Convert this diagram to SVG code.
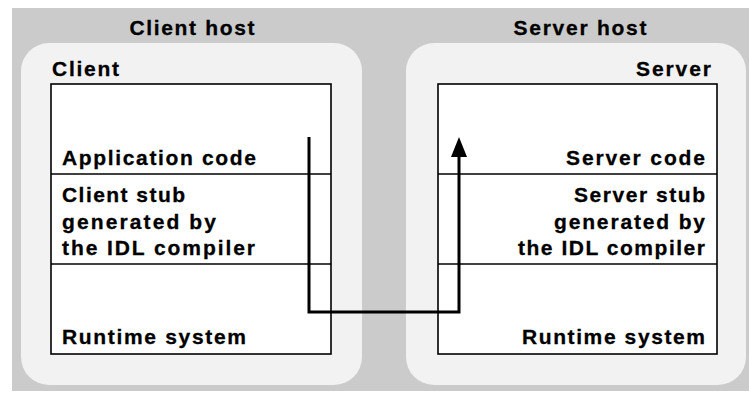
<svg xmlns="http://www.w3.org/2000/svg" width="749" height="393" viewBox="0 0 749 393">
<style>
.t{font-family:"Liberation Sans","DejaVu Sans",Arial,sans-serif;font-weight:bold;font-size:21px;fill:#000;stroke:#000;stroke-width:0.3}
.e{text-anchor:end}
.m{text-anchor:middle}
.panel{fill:#f2f2f2}
.box{fill:#fff;stroke:#000;stroke-width:1.6}
.div{stroke:#000;stroke-width:1.6}
.conn{fill:none;stroke:#000;stroke-width:3}
</style>
<rect x="0" y="0" width="749" height="393" fill="#fff"/>
<rect x="12" y="8" width="737" height="383" fill="#cbcbcb"/>
<g id="client-host">
<rect class="panel" x="21" y="43" width="341" height="342" rx="28"/>
<text class="t m" x="192" y="35" textLength="125" lengthAdjust="spacing">Client host</text>
</g>
<g id="server-host">
<rect class="panel" x="406" y="43" width="340" height="342" rx="28"/>
<text class="t m" x="580" y="35" textLength="133" lengthAdjust="spacing">Server host</text>
</g>
<g id="client">
<text class="t" x="52" y="76" textLength="67" lengthAdjust="spacing">Client</text>
<rect class="box" x="51" y="84" width="280" height="270"/>
<line class="div" x1="51" y1="174" x2="331" y2="174"/>
<line class="div" x1="51" y1="264" x2="331" y2="264"/>
</g>
<g id="client-app">
<text class="t" x="62" y="165" textLength="194" lengthAdjust="spacing">Application code</text>
</g>
<g id="client-stub">
<text class="t" x="62" y="202" textLength="123" lengthAdjust="spacing">Client stub</text>
<text class="t" x="62" y="229" textLength="154" lengthAdjust="spacing">generated by</text>
<text class="t" x="62" y="255" textLength="193" lengthAdjust="spacing">the IDL compiler</text>
</g>
<g id="client-runtime">
<text class="t" x="62" y="344" textLength="184" lengthAdjust="spacing">Runtime system</text>
</g>
<g id="server">
<text class="t e" x="711" y="76" textLength="75" lengthAdjust="spacing">Server</text>
<rect class="box" x="438" y="84" width="279" height="270"/>
<line class="div" x1="438" y1="174" x2="717" y2="174"/>
<line class="div" x1="438" y1="264" x2="717" y2="264"/>
</g>
<g id="server-code">
<text class="t e" x="705" y="165" textLength="139" lengthAdjust="spacing">Server code</text>
</g>
<g id="server-stub">
<text class="t e" x="705" y="202" textLength="131" lengthAdjust="spacing">Server stub</text>
<text class="t e" x="705" y="229" textLength="151" lengthAdjust="spacing">generated by</text>
<text class="t e" x="705" y="255" textLength="187" lengthAdjust="spacing">the IDL compiler</text>
</g>
<g id="server-runtime">
<text class="t e" x="705" y="344" textLength="183" lengthAdjust="spacing">Runtime system</text>
</g>
<g id="connectors">
<polyline class="conn" points="309,137 309,312 459,312 459,155"/>
<polygon points="459,137 451,157 467,157" fill="#000"/>
</g>
</svg>
